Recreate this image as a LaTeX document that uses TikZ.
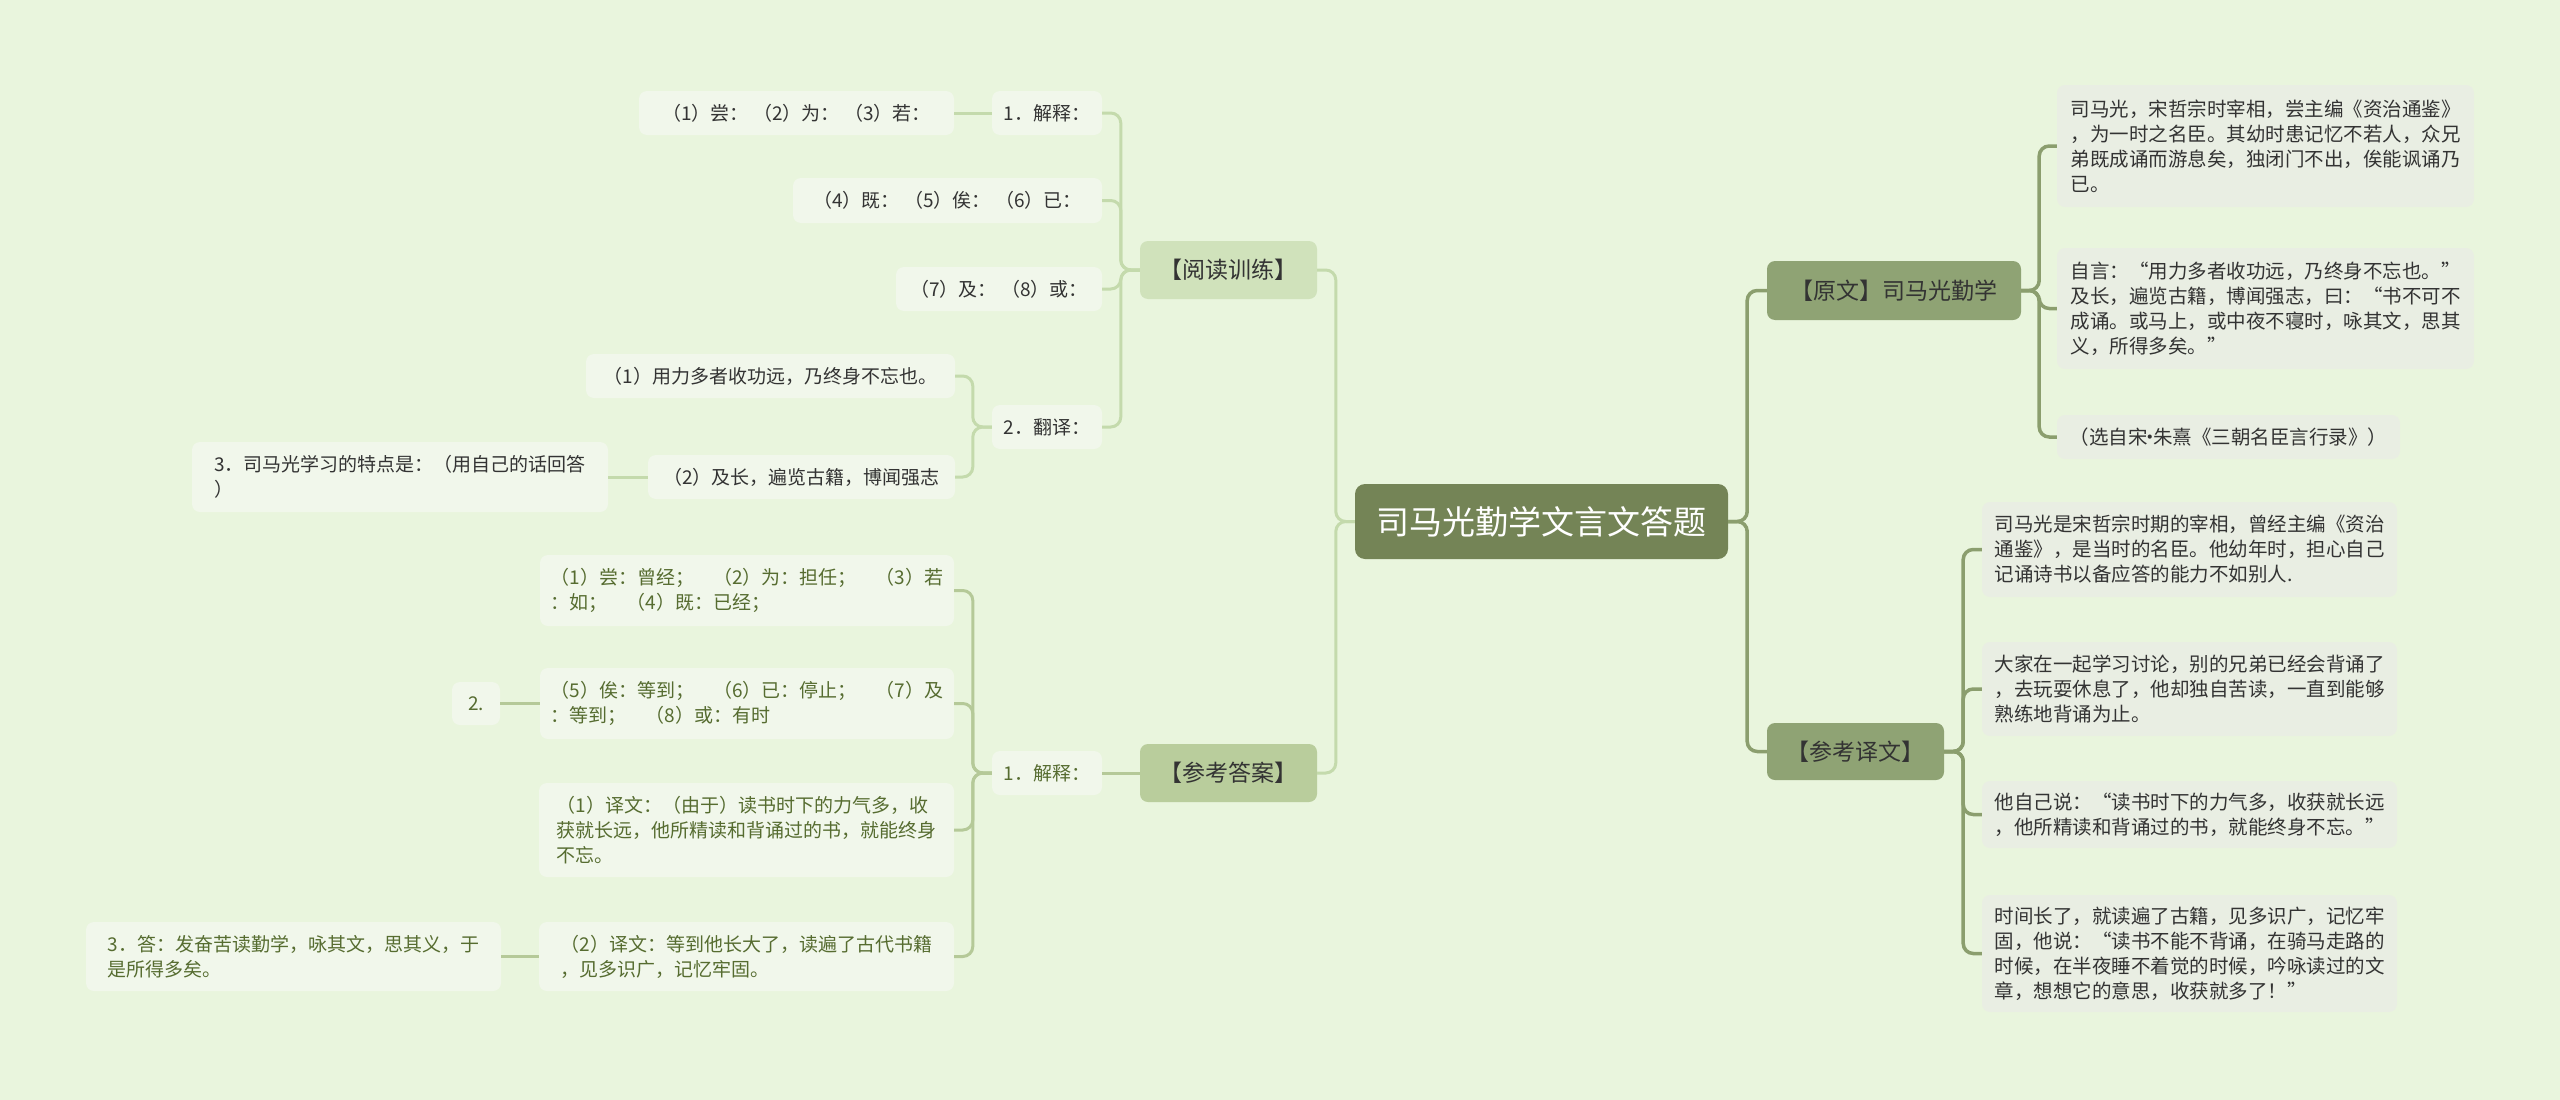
\documentclass[tikz,border=0pt]{standalone}
\usepackage{fontspec}
\setmainfont{Noto Sans CJK SC}
\usetikzlibrary{positioning}
\definecolor{bggreen}{RGB}{233,245,221}
\definecolor{rootgreen}{RGB}{116,132,86}
\definecolor{olivebox}{RGB}{143,163,116}
\definecolor{readbox}{RGB}{208,226,187}
\definecolor{ansbox}{RGB}{185,205,156}
\definecolor{leafleft}{RGB}{241,247,235}
\definecolor{leafright}{RGB}{233,238,227}
\definecolor{paleline}{RGB}{196,218,172}
\definecolor{ansline}{RGB}{181,201,152}
\definecolor{oliveline}{RGB}{139,158,110}
\definecolor{textdark}{RGB}{51,51,51}
\definecolor{anstext}{RGB}{86,108,48}

\tikzset{
  box/.style={rounded corners=8pt, inner sep=0pt, align=left},
  boxsize/.style 2 args={minimum width=#1pt, minimum height=#2pt},
  rootbox/.style={box, fill=rootgreen, text=white, rounded corners=10pt, font=\fontsize{33}{40}\selectfont},
  mainbox/.style={box, fill=olivebox, text=textdark, font=\fontsize{23}{28}\selectfont},
  readnode/.style={box, fill=readbox, text=textdark, font=\fontsize{23}{28}\selectfont},
  ansnode/.style={box, fill=ansbox, text=textdark, font=\fontsize{23}{28}\selectfont},
  qleaf/.style={box, fill=leafleft, text=textdark, font=\fontsize{19}{25}\selectfont},
  aleaf/.style={box, fill=leafleft, text=anstext, font=\fontsize{19}{25}\selectfont},
  rleaf/.style={box, fill=leafright, text=textdark, font=\fontsize{19.5}{25}\selectfont},
  link/.style={line width=3pt, paleline, rounded corners=10pt},
  alink/.style={line width=3pt, ansline, rounded corners=10pt},
  olink/.style={line width=3.5pt, oliveline, rounded corners=10pt}
}

\begin{document}
\begin{tikzpicture}[x=1pt, y=-1pt]
  \fill[bggreen] (0,0) rectangle (2560,1100);

  % centre
  \node[rootbox, boxsize={373}{75}] (root) at (1541.5,521.5) {司马光勤学文言文答题};

  % left half
  \node[readnode, boxsize={177}{58}] (read) at (1228.5,270) {【阅读训练】};
  \node[ansnode, boxsize={177}{58}] (ans) at (1228.5,773) {【参考答案】};

  \node[qleaf, boxsize={110}{44}] (q1) at (1047,113) {1．解释：};
  \node[qleaf, boxsize={315}{44}] (q1a) at (796.5,113) {（1）尝： （2）为： （3）若：};
  \node[qleaf, boxsize={309}{45}] (q2) at (947.5,200.5) {（4）既： （5）俟： （6）已：};
  \node[qleaf, boxsize={206}{44}] (q3) at (999,289) {（7）及： （8）或：};
  \node[qleaf, boxsize={110}{44}] (q4) at (1047,427) {2．翻译：};
  \node[qleaf, boxsize={369}{44}] (q41) at (770.5,376) {（1）用力多者收功远，乃终身不忘也。};
  \node[qleaf, boxsize={307}{44}] (q42) at (801.5,477) {（2）及长，遍览古籍，博闻强志};
  \node[qleaf, boxsize={416}{70}] (q421) at (400,477) {3．司马光学习的特点是：（用自己的话回答\\）};

  \node[aleaf, boxsize={110}{44}] (a0) at (1047,773) {1．解释：};
  \node[aleaf, boxsize={414}{71}] (a1) at (747,590.5) {（1）尝：曾经；　（2）为：担任；　（3）若\\：如；　（4）既：已经；};
  \node[aleaf, boxsize={414}{71}] (a2) at (747,703.5) {（5）俟：等到；　（6）已：停止；　（7）及\\：等到；　（8）或：有时};
  \node[aleaf, boxsize={48}{43}] (a21) at (476,703.5) {2.};
  \node[aleaf, boxsize={415}{94}] (a3) at (746.5,830) {（1）译文：（由于）读书时下的力气多，收\\获就长远，他所精读和背诵过的书，就能终身\\不忘。};
  \node[aleaf, boxsize={415}{69}] (a4) at (746.5,956.5) {（2）译文：等到他长大了，读遍了古代书籍\\，见多识广，记忆牢固。};
  \node[aleaf, boxsize={415}{69}] (a41) at (293.5,956.5) {3．答：发奋苦读勤学，咏其文，思其义，于\\是所得多矣。};

  % right half
  \node[mainbox, boxsize={254}{59}] (orig) at (1894,290.5) {【原文】司马光勤学};
  \node[mainbox, boxsize={177}{57}] (trans) at (1855.5,751.5) {【参考译文】};

  \node[rleaf, boxsize={417}{122}] (r1) at (2265.5,146) {司马光，宋哲宗时宰相，尝主编《资治通鉴》\\，为一时之名臣。其幼时患记忆不若人，众兄\\弟既成诵而游息矣，独闭门不出，俟能讽诵乃\\已。};
  \node[rleaf, boxsize={417}{121}] (r2) at (2265.5,308.5) {自言：“用力多者收功远，乃终身不忘也。”\\及长，遍览古籍，博闻强志，曰：“书不可不\\成诵。或马上，或中夜不寝时，咏其文，思其\\义，所得多矣。”};
  \node[rleaf, boxsize={343}{44}] (r3) at (2228.5,437) {（选自宋\kern-0.35em·\kern-0.35em朱熹《三朝名臣言行录》）};

  \node[rleaf, boxsize={415}{95}] (t1) at (2189.5,549.5) {司马光是宋哲宗时期的宰相，曾经主编《资治\\通鉴》，是当时的名臣。他幼年时，担心自己\\记诵诗书以备应答的能力不如别人.};
  \node[rleaf, boxsize={415}{94}] (t2) at (2189.5,689) {大家在一起学习讨论，别的兄弟已经会背诵了\\，去玩耍休息了，他却独自苦读，一直到能够\\熟练地背诵为止。};
  \node[rleaf, boxsize={415}{67}] (t3) at (2189.5,814.5) {他自己说：“读书时下的力气多，收获就长远\\，他所精读和背诵过的书，就能终身不忘。”};
  \node[rleaf, boxsize={415}{117}] (t4) at (2189.5,953.5) {时间长了，就读遍了古籍，见多识广，记忆牢\\固，他说：“读书不能不背诵，在骑马走路的\\时候，在半夜睡不着觉的时候，吟咏读过的文\\章，想想它的意思，收获就多了！”};

  % connectors
  \foreach \c in {read, ans} \draw[link] (root.west) -- ++(-19,0) |- (\c.east);
  \foreach \c in {q1, q2, q3, q4} \draw[link] (read.west) -- ++(-19,0) |- (\c.east);
  \draw[link] (q1.west) -- (q1a.east);
  \foreach \c in {q41, q42} \draw[link] (q4.west) -- ++(-19,0) |- (\c.east);
  \draw[link] (q42.west) -- (q421.east);

  \draw[alink] (ans.west) -- (a0.east);
  \foreach \c in {a1, a2, a3, a4} \draw[alink] (a0.west) -- ++(-19,0) |- (\c.east);
  \draw[alink] (a2.west) -- (a21.east);
  \draw[alink] (a4.west) -- (a41.east);

  \foreach \c in {orig, trans} \draw[olink] (root.east) -- ++(19,0) |- (\c.west);
  \foreach \c in {r1, r2, r3} \draw[olink] (orig.east) -- ++(18,0) |- (\c.west);
  \foreach \c in {t1, t2, t3, t4} \draw[olink] (trans.east) -- ++(19,0) |- (\c.west);
\end{tikzpicture}
\end{document}
